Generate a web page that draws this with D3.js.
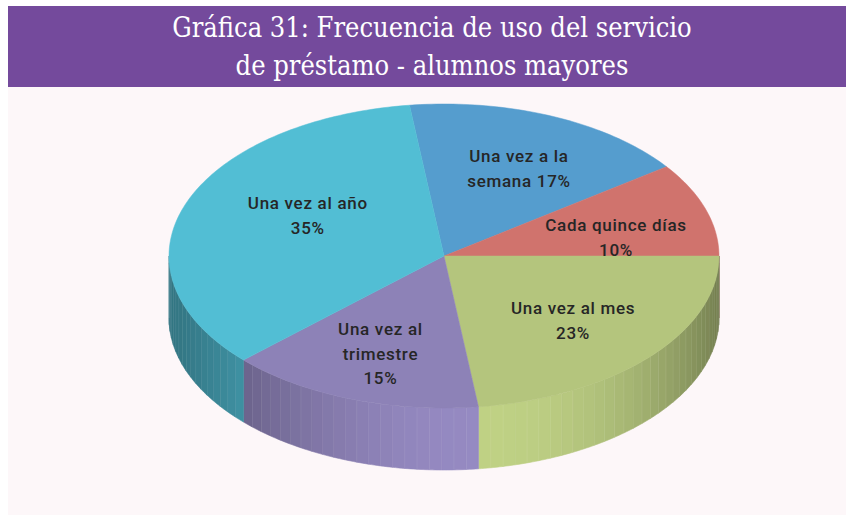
<!DOCTYPE html>
<html>
<head>
<meta charset="utf-8">
<script src="https://cdn.jsdelivr.net/npm/d3@7"></script>
<style>
  body { margin: 0; background: #ffffff; }
  svg { display: block; }
</style>
</head>
<body>
<svg id="chart" width="846" height="521"></svg>
<script>

// data
var categories = ['Una vez a la semana', 'Cada quince días', 'Una vez al mes', 'Una vez al trimestre', 'Una vez al año'],
    values = [17, 10, 23, 15, 35],
    labelLines = [['Una vez a la', 'semana 17%'], ['Cada quince días', '10%'], ['Una vez al mes', '23%'], ['Una vez al', 'trimestre', '15%'], ['Una vez al año', '35%']],
    topColors = ['#559dce', '#d0736d', '#b4c57d', '#8d82b7', '#52bed4'],
    titleLines = ['Gráfica 31: Frecuencia de uso del servicio', 'de préstamo - alumnos mayores'];

var svg = d3.select('#chart'),
    width = +svg.attr('width'),
    height = +svg.attr('height');

// frame
svg.append('rect').attr('x', 8).attr('y', 87).attr('width', width - 8).attr('height', 428).attr('fill', '#fdf7f9');
svg.append('rect').attr('x', 8).attr('y', 6).attr('width', width - 8).attr('height', 81).attr('fill', '#744a9c');

svg.append('g').selectAll('text')
    .data(titleLines)
    .enter().append('text')
    .attr('x', 432)
    .attr('y', function(d, i) { return 37 + i * 38; })
    .attr('text-anchor', 'middle')
    .attr('fill', '#ffffff')
    .style('font-family', '"DejaVu Serif Condensed", "DejaVu Serif", serif')
    .style('font-stretch', 'condensed')
    .style('font-size', '27px')
    .text(function(d) { return d; });

// pie geometry (ellipse seen at an angle)
var cx = 444, cy = 256, rx = 275, ry = 152, depth = 62;

var pie = d3.pie().sort(null).value(function(d) { return d; })
    .startAngle(-7.2 * Math.PI / 180)
    .endAngle((360 - 7.2) * Math.PI / 180);

var arcs = pie(values);

function px(a, f) { return cx + rx * (f || 1) * Math.sin(a); }
function py(a, f) { return cy - ry * (f || 1) * Math.cos(a); }

var line = d3.line();

// side walls, visible between 90 and 270 degrees
var side = svg.append('g');
var step = 2.6 * Math.PI / 180;
var lightAngle = 172 * Math.PI / 180;
arcs.forEach(function(a, i) {
    var s = Math.max(a.startAngle, Math.PI / 2),
        e = Math.min(a.endAngle, 3 * Math.PI / 2);
    if (e <= s) return;
    var n = Math.ceil((e - s) / step);
    var base = d3.color(topColors[i]);
    for (var k = 0; k < n; k++) {
        var a0 = s + (e - s) * k / n,
            a1 = s + (e - s) * (k + 1) / n,
            am = (a0 + a1) / 2,
            light = Math.max(0, Math.cos(am - lightAngle)), // brightest at the front
            shade = 0.62 + 0.44 * light * light;
        var c = d3.rgb(base.r * shade, base.g * shade, base.b * shade);
        var pts = d3.range(0, 5).map(function(j) { var t = a0 + (a1 - a0) * j / 4; return [px(t), py(t)]; });
        var bottom = pts.slice().reverse().map(function(p) { return [p[0], p[1] + depth]; });
        side.append('path')
            .attr('d', line(pts.concat(bottom)) + 'Z')
            .attr('fill', c)
            .attr('stroke', c)
            .attr('stroke-width', 0.6);
        side.append('line')
            .attr('x1', px(a1)).attr('y1', py(a1))
            .attr('x2', px(a1)).attr('y2', py(a1) + depth)
            .attr('stroke', '#ffffff')
            .attr('stroke-opacity', 0.2)
            .attr('stroke-width', 0.8);
    }
});

// top face
svg.append('g').selectAll('path')
    .data(arcs)
    .enter().append('path')
    .attr('d', function(a) {
        var n = Math.max(4, Math.ceil((a.endAngle - a.startAngle) / 0.02));
        var pts = d3.range(0, n + 1).map(function(j) {
            var t = a.startAngle + (a.endAngle - a.startAngle) * j / n;
            return [px(t), py(t)];
        });
        return line([[cx, cy]].concat(pts)) + 'Z';
    })
    .attr('fill', function(a, i) { return topColors[i]; })
    .attr('stroke', function(a, i) { return topColors[i]; })
    .attr('stroke-width', 0.5);

// labels
var labelNudge = [[4, 3], [2, 12], [-5, -1], [-3, 5], [32, -7]];
var labels = svg.append('g');
arcs.forEach(function(a, i) {
    var m = (a.startAngle + a.endAngle) / 2,
        lx = px(m, 0.65) + labelNudge[i][0],
        ly = py(m, 0.65) + labelNudge[i][1],
        lines = labelLines[i],
        lh = 24.5;
    labels.append('text')
        .attr('x', lx)
        .attr('text-anchor', 'middle')
        .attr('fill', '#262626')
        .style('font-family', 'Roboto, sans-serif')
        .style('font-weight', 500)
        .style('font-size', '17px')
        .style('letter-spacing', '0.7px')
        .selectAll('tspan')
        .data(lines)
        .enter().append('tspan')
        .attr('x', lx)
        .attr('y', function(d, j) { return ly + 6 + (j - (lines.length - 1) / 2) * lh; })
        .text(function(d) { return d; });
});

</script>
</body>
</html>
